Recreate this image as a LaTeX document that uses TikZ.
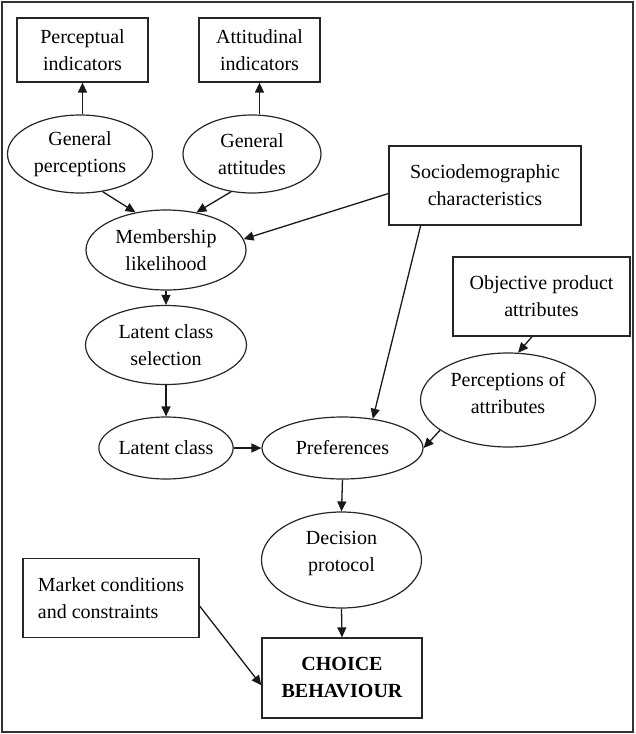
\documentclass[tikz,border=0pt]{standalone}
\usepackage{fontspec}
\setmainfont{Liberation Serif}
\usetikzlibrary{shapes.geometric,arrows.meta,calc}
\begin{document}
\begin{tikzpicture}[x=1pt,y=-1pt,
  txt/.style={font=\fontsize{20}{27}\selectfont, align=center, inner sep=0pt, text=black},
  boxnode/.style={txt, rectangle, draw=black!85, line width=1.25pt},
  ell/.style={txt, ellipse, draw=black!85, line width=1.2pt},
  arr/.style={-{Triangle[length=10pt,width=9pt]}, line width=1.3pt, draw=black!90},
]
\useasboundingbox (0,0) rectangle (635,734);
\draw[line width=1.4pt, draw=black!80] (2,2) rectangle (633,732);

\node[boxnode, minimum width=131pt, minimum height=64pt] (pi) at (82.5,50) {Perceptual\\indicators};
\node[boxnode, minimum width=121pt, minimum height=64pt] (ai) at (259.5,50) {Attitudinal\\indicators};
\node[ell, minimum width=145pt, minimum height=78pt] (gp) at (80,154) {General\\perceptions};
\node[ell, minimum width=138pt, minimum height=78pt] (ga) at (252,154) {General\\attitudes};
\node[boxnode, minimum width=192pt, minimum height=79pt] (soc) at (485,185.5) {Sociodemographic\\characteristics};
\node[ell, minimum width=160pt, minimum height=80pt] (mem) at (166,250) {Membership\\likelihood};
\node[ell, minimum width=161pt, minimum height=79pt] (lcs) at (166,345) {Latent class\\selection};
\node[boxnode, minimum width=177pt, minimum height=79pt] (obj) at (541.5,296.5) {Objective product\\attributes};
\node[ell, minimum width=175pt, minimum height=94pt, text depth=14pt] (per) at (508,400) {Perceptions of\\attributes};
\node[ell, minimum width=128pt, minimum height=62pt] (lc) at (166,448) {Latent class};
\node[ell, minimum width=161pt, minimum height=62pt] (pref) at (342.5,448) {Preferences};
\node[ell, minimum width=160pt, minimum height=96pt, text depth=17pt] (dp) at (341.5,560) {Decision\\protocol};
\node[boxnode, align=left, minimum width=176pt, minimum height=79pt] (mkt) at (111,598) {Market conditions\\and constraints};
\node[boxnode, font=\fontsize{20}{27}\selectfont\bfseries, minimum width=160pt, minimum height=80pt] (ch) at (342,678) {CHOICE\\BEHAVIOUR};

\draw[arr] (gp.north -| pi.south) -- (pi.south);
\draw[arr] (ga.north -| ai.south) -- (ai.south);
\draw[arr] (gp.-59) -- (mem.129);
\draw[arr] (ga.-119) -- (mem.51);
\draw[arr] ($(soc.north west)!0.6!(soc.south west)$) -- (mem.8);
\draw[arr] ($(soc.south west)!0.167!(soc.south east)$) -- (pref.44);
\draw[arr] (mem.south) -- (lcs.north);
\draw[arr] (lcs.south) -- (lc.north);
\draw[arr] (lc.east) -- (pref.west);
\draw[arr] ($(obj.south west)!0.447!(obj.south east)$) -- (per.78);
\draw[arr] (per.204) -- (pref.east);
\draw[arr] (pref.south) -- (dp.north);
\draw[arr] (dp.south) -- (ch.north);
\draw[arr] ($(mkt.north east)!0.6!(mkt.south east)$) -- ($(ch.north west)!0.59!(ch.south west)$);
\end{tikzpicture}
\end{document}
